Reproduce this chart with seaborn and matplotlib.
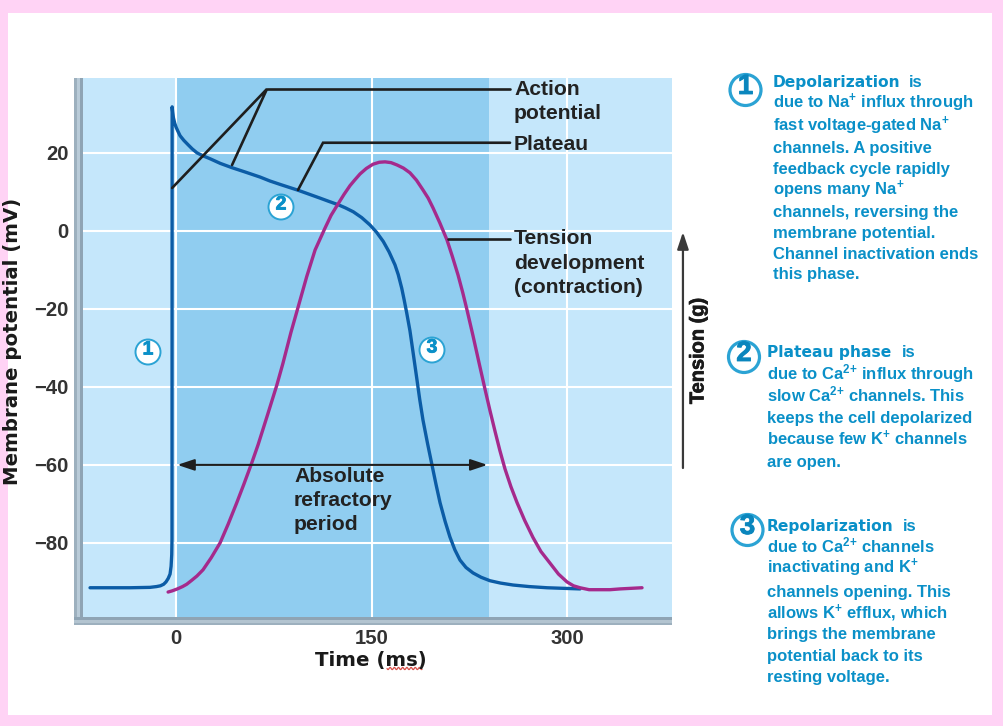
import numpy as np
import pandas as pd
import matplotlib
matplotlib.use("Agg")
import matplotlib.pyplot as plt
import matplotlib.patheffects as pe
from matplotlib.patches import Circle, Rectangle
import seaborn as sns

# Action potential of a cardiac contractile cell: time (ms), membrane potential (mV)
ap_time = [-66, -35.3, -20, -15, -12, -9.5, -7.7, -6, -4.6, -3.8, -3.3, -3.1, -3, -2.6, -2, -1, 0, 1.5, 3.1, 6,
           9.2, 12.5, 16.1, 21, 26.1, 34, 43, 53, 64.5, 72, 80, 93.8, 103, 110.5, 117, 124.5, 130, 136, 142.5,
           148.9, 154, 159, 163.5, 168, 170.5, 173.2, 175, 177, 179.5, 182, 184.9, 187, 189.5, 193, 196.4,
           199.5, 202.6, 206.5, 210.2, 214, 217.9, 222.5, 227.9, 234, 240.9, 249, 258.6, 271, 284.7, 310]
ap_mv = [-91.5, -91.5, -91.4, -91.2, -91, -90.6, -90, -89.1, -88, -86, -83, -79, 31.8, 30.5, 29, 27.6, 26.6, 25.5, 24.4, 23.2,
         22.1, 21, 20, 19.2, 18.5, 17.3, 16.2, 15.1, 13.8, 12.8, 11.9, 10.4, 9.3, 8.4, 7.6, 6.7, 5.9, 4.9, 3.4,
         1.5, -0.4, -2.7, -5.4, -8.7, -11.2, -14.7, -17.6, -21, -25.6, -31.4, -38.2, -43.2, -48.5, -54.5, -60,
         -65, -69.7, -74.5, -78.5, -81.8, -84.4, -86.3, -87.7, -88.8, -89.7, -90.3, -90.8, -91.2, -91.5, -91.8]

# Tension development, on the same axes
tension_time = [-6.1, -3, 1, 5, 8.2, 12, 16, 20.7, 27, 33.8, 40, 46.6, 52, 58.1, 63, 70, 77.3, 82, 88.2, 93.8,
                100.3, 106.7, 114.3, 119, 124.5, 129, 133.5, 137, 141.2, 146, 151.2, 156, 160.4, 165,
                169.6, 174.5, 179.5, 184.5, 189.5, 193.5, 197.2, 202.5, 207.9, 212, 216.4, 220, 223.3, 227.9,
                232.5, 237.1, 241, 244.8, 248.5, 252.4, 257, 261.6, 267.5, 273.9, 280, 287, 293.5, 300, 305,
                310, 317, 325, 333, 340.7, 357.6]
tension_mv = [-92.6, -92.3, -91.8, -91.2, -90.6, -89.6, -88.5, -86.9, -83.8, -80, -75.2, -69.7, -65, -59.5, -54.8,
              -47.4, -39.6, -34, -26, -19.4, -11.7, -4.9, 0.7, 4, 7, 9.4, 11.6, 13, 14.6, 16, 17.1, 17.6, 17.7, 17.5,
              16.9, 16.1, 14.9, 13, 10.5, 8.4, 5.9, 2, -2.3, -6.5, -11.3, -15.8, -20.3, -26.9,
              -33.8, -40.6, -46.2, -51.4, -56.3, -61, -65.6, -69.6, -74.2, -78.6, -82.2, -85.2, -88, -90, -91,
              -91.5, -92, -92, -92, -91.8, -91.5]

x_ticks = [0, 150, 300]
y_ticks = [20, 0, -20, -40, -60, -80]
refractory_end = 240

WIDTH, HEIGHT = 1004, 726
PINK, LIGHT, MID = "#FFD3F5", "#C5E7FB", "#90CDF0"
INK, TEAL = "#222222", "#0A90C8"
BLUE, MAGENTA = "#0B5CA6", "#A52A8C"

sns.set_theme(style="whitegrid", rc={
    "axes.facecolor": LIGHT,
    "grid.color": "white",
    "grid.linewidth": 1.5,
})
plt.rcParams["font.family"] = ["Liberation Sans", "DejaVu Sans"]
plt.rcParams["font.weight"] = "bold"
plt.rcParams["mathtext.fontset"] = "custom"
plt.rcParams["mathtext.rm"] = "Liberation Sans:bold"
plt.rcParams["mathtext.default"] = "rm"

fig = plt.figure(figsize=(WIDTH / 100, HEIGHT / 100), dpi=100, facecolor=PINK)


def axes_from_pixels(left, top, right, bottom, **kw):
    return fig.add_axes([left / WIDTH, 1 - bottom / HEIGHT, (right - left) / WIDTH, (bottom - top) / HEIGHT], **kw)


# White page behind everything, pink frame left around it
page = axes_from_pixels(0, 0, WIDTH, HEIGHT, zorder=0)
page.set_xlim(0, WIDTH)
page.set_ylim(HEIGHT, 0)
page.axis("off")
page.add_patch(Rectangle((8, 13), 984, 702, facecolor="white", edgecolor="none"))
# Bevelled grey axis rails
for x0, w, c in [(74.5, 3, "#9DB0BE"), (77.5, 3, "#B9CBD8"), (80.5, 2.5, "#8FA4B4")]:
    page.add_patch(Rectangle((x0, 78), w, 547, facecolor=c, edgecolor="none"))
for y0, h, c in [(617, 3, "#8FA4B4"), (620, 3, "#B3C4D0"), (623, 2, "#9DB0BE")]:
    page.add_patch(Rectangle((74.5, y0), 597.5, h, facecolor=c, edgecolor="none"))

ax = axes_from_pixels(83, 78, 672, 617, zorder=1)
ax.set_axisbelow(True)
ax.axvspan(0, refractory_end, facecolor=MID, edgecolor="none", zorder=0.4)

ap = pd.DataFrame({"time": ap_time, "mv": ap_mv})
tension = pd.DataFrame({"time": tension_time, "mv": tension_mv})
line_style = dict(sort=False, estimator=None, legend=False, linewidth=2.4, ax=ax)
sns.lineplot(data=ap, x="time", y="mv", color=BLUE, zorder=3, **line_style)
sns.lineplot(data=tension, x="time", y="mv", color=MAGENTA, zorder=4, **line_style)
for line in ax.get_lines():
    line.set_solid_joinstyle("round")

ax.set_xlim(-71.4, 380.6)
ax.set_ylim(-99, 39.2)
ax.set_xticks(x_ticks)
ax.set_yticks(y_ticks)
ax.set_yticklabels([str(v).replace("-", "\u2212") for v in y_ticks])
ax.set_xlabel("")
ax.set_ylabel("")
ax.tick_params(length=0, labelsize=14.6, labelcolor="#333333")
ax.tick_params(axis="x", pad=9)
ax.tick_params(axis="y", pad=10.5)
for spine in ax.spines.values():
    spine.set_visible(False)

# Leader lines from the curves to their captions
leader = dict(color="#1E1E1E", linewidth=1.9, solid_joinstyle="miter", zorder=5, clip_on=False)
ax.plot([-3, 69.8, 43], [11, 36.4, 16.9], **leader)
ax.plot([69.8, 256.3], [36.4, 36.4], **leader)
ax.plot([93.6, 112.8, 256.3], [10.5, 22.6, 22.6], **leader)
ax.plot([208.7, 256.3], [-2, -2], **leader)

# Absolute refractory period span
ax.annotate("", xy=(1, -60), xytext=(239, -60), zorder=5,
            arrowprops=dict(arrowstyle="<|-|>,head_length=0.6,head_width=0.2", color="#1E1E1E", lw=1.5,
                            mutation_scale=17, shrinkA=0, shrinkB=0))
# Tension scale arrow, to the right of the plotting area
ax.annotate("", xy=(389, -0.3), xytext=(389, -60.8), annotation_clip=False,
            arrowprops=dict(arrowstyle="-|>,head_length=0.6,head_width=0.2", color="#3A3A3A", lw=1.6,
                            mutation_scale=17, shrinkA=0, shrinkB=0))

# Overlay in pixel units for captions and numbered badges
top = axes_from_pixels(0, 0, WIDTH, HEIGHT, zorder=2)
top.set_xlim(0, WIDTH)
top.set_ylim(HEIGHT, 0)
top.axis("off")
top.patch.set_alpha(0)


def caption(x, y, s, size=15.2, color=INK, heavy=0.0, va="baseline", **kw):
    t = top.text(x, y, s, fontsize=size, color=color, fontweight="bold", va=va, ha=kw.pop("ha", "left"), **kw)
    if heavy:
        t.set_path_effects([pe.withStroke(linewidth=heavy, foreground=color)])
    return t


for x, y, s in [(514, 95, "Action"), (514, 119, "potential"), (514, 150, "Plateau"),
                (514, 244, "Tension"), (514, 269, "development"), (514, 293, "(contraction)"),
                (294, 482, "Absolute"), (294, 506, "refractory"), (294, 530, "period")]:
    caption(x, y, s)

WIDE = ["DejaVu Sans"]
caption(12.5, 341, "Membrane potential (mV)", size=14.2, color="#1A1A1A", rotation=90, ha="center", va="center",
        family=WIDE)
caption(371, 666, "Time (ms)", size=14.2, color="#1A1A1A", ha="center", family=WIDE)
caption(698, 351, "Tension (g)", size=14.4, color="#1A1A1A", heavy=0.5, rotation=90, ha="center", va="center")

# Spell-check squiggle under the unit
squiggle_x = np.linspace(387, 422, 80)
top.plot(squiggle_x, 668.5 + 1.1 * np.sin((squiggle_x - 387) * 1.5), color="#D9504A", linewidth=0.9)


def badge(x, y, label, radius, edge_width, size, lift, digit_color=TEAL):
    top.add_patch(Circle((x, y), radius, facecolor="white", edgecolor="#2BA3D4", linewidth=edge_width, zorder=6))
    caption(x, y - lift, label, size=size, color=digit_color, ha="center", va="center", zorder=7, heavy=0.6)


badge(148, 352, "1", 12.5, 1.4, 14, 2)
badge(281, 207, "2", 12.5, 1.4, 14, 2)
badge(432, 350, "3", 12.5, 1.4, 14, 2)
badge(745.5, 90, "1", 15.5, 2.3, 20, 3, "#0A86BD")
badge(744, 357, "2", 15.5, 2.3, 20, 3, "#0A86BD")
badge(747.5, 530, "3", 15.5, 2.3, 20, 3, "#0A86BD")

NA_PLUS = r"Na$^{+}$"
CA_2PLUS = r"Ca$^{2{+}}$"
K_PLUS = r"K$^{+}$"

notes = [
    (773, "Depolarization", 909, [
        (87, None),
        (108, f"due to {NA_PLUS} influx through"),
        (131, f"fast voltage-gated {NA_PLUS}"),
        (153, "channels. A positive"),
        (174, "feedback cycle rapidly"),
        (195, f"opens many {NA_PLUS}"),
        (217, "channels, reversing the"),
        (238, "membrane potential."),
        (259, "Channel inactivation ends"),
        (279, "this phase."),
    ]),
    (767, "Plateau phase", 902, [
        (357, None),
        (379, f"due to {CA_2PLUS} influx through"),
        (401, f"slow {CA_2PLUS} channels. This"),
        (423, "keeps the cell depolarized"),
        (445, f"because few {K_PLUS} channels"),
        (467, "are open."),
    ]),
    (767, "Repolarization", 903, [
        (531, None),
        (552, f"due to {CA_2PLUS} channels"),
        (573, f"inactivating and {K_PLUS}"),
        (597, "channels opening. This"),
        (618, f"allows {K_PLUS} efflux, which"),
        (639, "brings the membrane"),
        (661, "potential back to its"),
        (682, "resting voltage."),
    ]),
]
for x, head, is_x, lines in notes:
    for y, s in lines:
        if s is None:
            caption(x, y, head, size=11.2, color=TEAL, family=WIDE)
            caption(is_x, y, "is", size=12, color=TEAL)
        else:
            caption(x, y, s, size=12, color=TEAL)

fig.savefig("out.png", dpi=100, facecolor=PINK)
